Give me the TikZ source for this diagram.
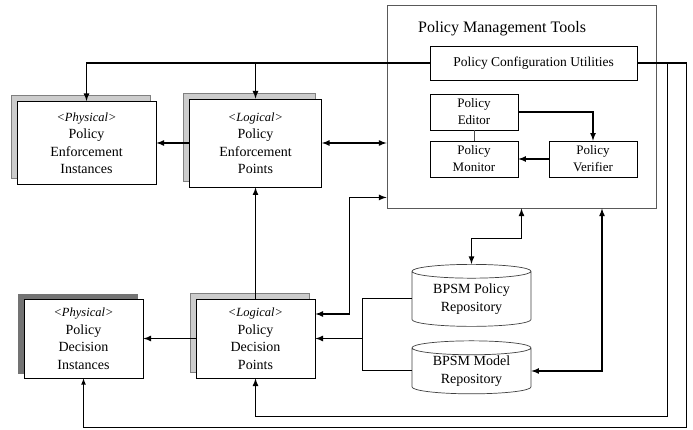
\documentclass[tikz,border=0pt]{standalone}
\usepackage{fontspec}
\setmainfont{Liberation Serif}
\usetikzlibrary{arrows, shapes.geometric, shadows, positioning}
\newcommand{\kind}[1]{{\fontsize{12.5}{17.5}\selectfont\textit{#1}}}
\tikzstyle{tool} = [rectangle, draw=black, line width=0.7pt, fill=white, align=center, inner sep=0pt, font=\fontsize{13}{17}\selectfont]
\tikzstyle{point} = [rectangle, draw=black, line width=0.8pt, fill=white, align=center, inner sep=0pt, font=\fontsize{14}{17.5}\selectfont]
\tikzstyle{lightshadow} = [copy shadow={shadow xshift=-6pt, shadow yshift=6pt, fill=black!20, draw=black!50}]
\tikzstyle{darkshadow} = [copy shadow={shadow xshift=-6pt, shadow yshift=5pt, fill=black!55, draw=black!55}]
\tikzstyle{repo} = [cylinder, shape border rotate=90, aspect=0.18, draw=black!75, line width=0.7pt, fill=white, align=center, inner sep=0pt, minimum width=119pt, font=\fontsize{14}{18}\selectfont]
\tikzstyle{arrow} = [line width=1.6pt, ->, >=latex]
\tikzstyle{dblarrow} = [line width=1.6pt, <->, >=latex]
\tikzstyle{outer} = [line width=1.1pt, ->, >=latex]
\tikzstyle{link} = [line width=1pt]

\begin{document}
\begin{tikzpicture}[x=1pt, y=-1pt]
    \useasboundingbox (0,0) rectangle (693,430);
    \node(pmt)[rectangle, draw=black!65, line width=0.9pt, minimum width=269pt, minimum height=203pt] at (521.5,106.5) {};
    \node(title)[anchor=west, inner sep=0pt, font=\fontsize{16}{18}\selectfont] at (418,29) {Policy Management Tools};
    \node(pcu)[tool, minimum width=207pt, minimum height=34pt, font=\fontsize{13.5}{17}\selectfont] at (533.5,63) {Policy Configuration Utilities};
    \node(editor)[tool, minimum width=88pt, minimum height=36pt] at (474,112) {Policy\\Editor};
    \node(monitor)[tool, minimum width=88pt, minimum height=36pt] at (474,159) {Policy\\Monitor};
    \node(verifier)[tool, minimum width=88pt, minimum height=36pt] at (593,159) {Policy\\Verifier};
    %
    \node(pei)[point, lightshadow, minimum width=139pt, minimum height=83pt] at (86.5,143) {\kind{<Physical>}\\Policy\\Enforcement\\Instances};
    \node(pep)[point, lightshadow, minimum width=132pt, minimum height=88pt] at (255.5,143) {\kind{<Logical>}\\Policy\\Enforcement\\Points};
    \node(pdi)[point, darkshadow, minimum width=119pt, minimum height=79pt] at (83.5,338.5) {\kind{<Physical>}\\Policy\\Decision\\Instances};
    \node(pdp)[point, lightshadow, minimum width=119pt, minimum height=79pt] at (255.5,338.5) {\kind{<Logical>}\\Policy\\Decision\\Points};
    %
    \node(polrepo)[repo, minimum height=62pt] at (471.5,299) {BPSM Policy\\Repository};
    \node(modrepo)[repo, minimum height=53pt] at (471.5,371) {BPSM Model\\Repository};
    %
    \draw[arrow](editor.east) -| (verifier.north);
    \draw[arrow](verifier.west)--(monitor.east);
    \draw[line width=0.6pt, black!70](editor.south)--(monitor.north);
    %
    \draw[arrow](pcu.west) -| (pei.north);
    \draw[arrow](pcu.west) -| (pep.north);
    \draw[outer](pcu.east) -- ++(49,0) |- ([yshift=-49pt]pdi.south) -- (pdi.south);
    \draw[arrow](pcu.east) -- ++(30,0) |- ([yshift=-38pt]pdp.south) -- (pdp.south);
    %
    \draw[arrow](pep.west)--(pei.east);
    \draw[dblarrow](pep.east)--(pep.east -| pmt.west);
    \draw[arrow](pdp.north)--(pep.south);
    \draw[arrow](pdp.west)--(pdi.east);
    \draw[dblarrow]([yshift=24.5pt]pdp.east) -| ([xshift=-37pt, yshift=11pt]pmt.south west) -- ([yshift=11pt]pmt.south west);
    %
    \draw[dblarrow](pmt.south) -- ++(0,30) -| (polrepo.north);
    \draw[dblarrow]([xshift=80.5pt]pmt.south) |- (modrepo.east);
    \draw[link](polrepo.west) -- ++(-49,0) |- (modrepo.west);
    \draw[arrow]([xshift=-49pt]polrepo.west |- pdp.east) -- (pdp.east);
\end{tikzpicture}
\end{document}
